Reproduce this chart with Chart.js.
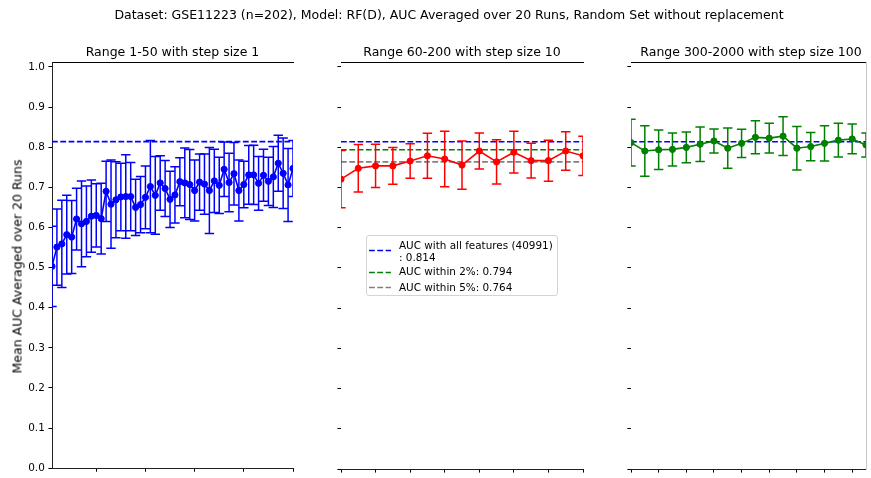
<!DOCTYPE html>
<html>
<head>
<meta charset="utf-8">
<script src="https://cdn.jsdelivr.net/npm/chart.js@4.4.1/dist/chart.umd.min.js"></script>
<style>
  body { margin: 0; background: #fff; }
  #fig { position: relative; width: 871px; height: 478px; overflow: hidden; font-family: "DejaVu Sans", sans-serif; color: #000; }
  #fig canvas { position: absolute; top: 0; }
  .t { position: absolute; white-space: nowrap; }
  .big { font-size: 12.5px; line-height: 15px; }
  .small { font-size: 10.42px; line-height: 12px; }
  .title { text-align: center; top: 44px; }
  #ylabel { left: -98px; top: 259px; width: 230px; text-align: center; transform: rotate(-90deg); }
  #legendBox { position: absolute; left: 366px; top: 235px; width: 190px; height: 59px; border: 1px solid #d4d4d4; border-radius: 3px; background: rgba(255,255,255,0.8); }
  .sample { position: absolute; left: 369px; }
</style>
</head>
<body>
<div id="fig">
  <canvas id="c1" width="300" height="478" style="left:0px"></canvas>
  <canvas id="c2" width="300" height="478" style="left:300px"></canvas>
  <canvas id="c3" width="281" height="478" style="left:590px"></canvas>

  <div class="t big" style="left:0;width:898px;text-align:center;top:7px">Dataset: GSE11223 (n=202), Model: RF(D), AUC Averaged over 20 Runs, Random Set without replacement</div>
  <div class="t big title" style="left:52px;width:241px">Range 1-50 with step size 1</div>
  <div class="t big title" style="left:341px;width:242px">Range 60-200 with step size 10</div>
  <div class="t big title" style="left:631px;width:240px">Range 300-2000 with step size 100</div>
  <div class="t big" id="ylabel">Mean AUC Averaged over 20 Runs</div>

  <div id="legendBox"></div>
  <svg class="sample" style="top:248px" width="22" height="5"><line x1="0" y1="2.5" x2="22" y2="2.5" stroke="#0000ff" stroke-width="1.6" stroke-dasharray="5.8 2.5"/></svg>
  <svg class="sample" style="top:269.5px" width="22" height="5"><line x1="0" y1="2.5" x2="22" y2="2.5" stroke="#008000" stroke-width="1.6" stroke-dasharray="5.8 2.5"/></svg>
  <svg class="sample" style="top:285px" width="22" height="5"><line x1="0" y1="2.5" x2="22" y2="2.5" stroke="#808080" stroke-width="1.6" stroke-dasharray="5.8 2.5"/></svg>
  <div class="t small" style="left:399px;top:238.7px">AUC with all features (40991)</div>
  <div class="t small" style="left:399px;top:250.7px">: 0.814</div>
  <div class="t small" style="left:399px;top:264.7px">AUC within 2%: 0.794</div>
  <div class="t small" style="left:399px;top:280.7px">AUC within 5%: 0.764</div>
</div>

<script>
// --- data ---
const sizes1 = [1,2,3,4,5,6,7,8,9,10,11,12,13,14,15,16,17,18,19,20,21,22,23,24,25,
                26,27,28,29,30,31,32,33,34,35,36,37,38,39,40,41,42,43,44,45,46,47,48,49,50];
const auc1 = [0.503,0.551,0.559,0.582,0.576,0.621,0.609,0.615,0.628,0.630,0.622,0.690,0.658,0.669,0.676,
              0.677,0.677,0.650,0.657,0.675,0.702,0.680,0.711,0.697,0.670,0.681,0.714,0.711,0.707,0.692,
              0.713,0.708,0.692,0.716,0.705,0.745,0.712,0.734,0.692,0.707,0.731,0.731,0.710,0.730,0.715,
              0.726,0.760,0.735,0.706,0.747];
const err1 = [0.100,0.095,0.109,0.098,0.091,0.077,0.107,0.088,0.090,0.079,0.088,0.075,0.110,0.095,0.084,
              0.104,0.085,0.070,0.070,0.078,0.115,0.097,0.068,0.070,0.070,0.070,0.060,0.087,0.087,0.076,
              0.070,0.075,0.107,0.079,0.070,0.068,0.073,0.078,0.076,0.058,0.073,0.074,0.067,0.065,0.060,
              0.076,0.070,0.088,0.091,0.070];

const sizes2 = [60,70,80,90,100,110,120,130,140,150,160,170,180,190,200];
const auc2 = [0.721,0.748,0.754,0.754,0.766,0.779,0.771,0.756,0.791,0.764,0.788,0.767,0.767,0.791,0.779];
const err2 = [0.071,0.059,0.054,0.046,0.043,0.056,0.069,0.060,0.045,0.055,0.052,0.043,0.051,0.048,0.049];

const sizes3 = [300,400,500,600,700,800,900,1000,1100,1200,1300,1400,1500,1600,1700,1800,1900,2000];
const auc3 = [0.812,0.791,0.794,0.795,0.800,0.808,0.816,0.798,0.810,0.825,0.823,0.828,0.798,0.802,0.810,0.818,0.821,0.806];
const err3 = [0.058,0.063,0.049,0.041,0.038,0.043,0.030,0.050,0.035,0.041,0.037,0.048,0.054,0.035,0.044,0.042,0.037,0.030];

const aucAll = 0.814;
const auc2pct = 0.794;
const auc5pct = 0.764;

const yTicks = [0.0,0.1,0.2,0.3,0.4,0.5,0.6,0.7,0.8,0.9,1.0];
const xTicks1 = [10,20,30,40,50];
const xTicks2 = [60,80,100,120,140,160,180,200];
const xTicks3 = [300,500,700,900,1100,1300,1500,1700,1900];

const FONT = '"DejaVu Sans", sans-serif';

// error bars drawn just under the series they belong to
const errorBars = {
  id: 'errorBars',
  beforeDatasetDraw(chart, args) {
    const ds = chart.data.datasets[args.index];
    if (!ds.errors) return;
    const { ctx, chartArea } = chart;
    const x = chart.scales.x, y = chart.scales.y;
    const cap = 4.7;
    ctx.save();
    ctx.beginPath();
    ctx.rect(chartArea.left, chartArea.top, chartArea.right - chartArea.left, chartArea.bottom - chartArea.top);
    ctx.clip();
    ctx.strokeStyle = ds.borderColor;
    ctx.lineWidth = 1.5;
    ds.data.forEach((p, i) => {
      const px = x.getPixelForValue(p.x);
      const top = y.getPixelForValue(p.y + ds.errors[i]);
      const bot = y.getPixelForValue(p.y - ds.errors[i]);
      ctx.beginPath();
      ctx.moveTo(px, top); ctx.lineTo(px, bot);
      ctx.moveTo(px - cap, top); ctx.lineTo(px + cap, top);
      ctx.moveTo(px - cap, bot); ctx.lineTo(px + cap, bot);
      ctx.stroke();
    });
    ctx.restore();
  }
};

function hline(value, color, xmin, xmax) {
  return {
    data: [{ x: xmin, y: value }, { x: xmax, y: value }],
    borderColor: color,
    borderWidth: 1.6,
    borderDash: [5.8, 2.5],
    pointRadius: 0,
    showLine: true
  };
}

function makePanel(id, cfg) {
  const series = {
    data: cfg.sizes.map((s, i) => ({ x: s, y: cfg.auc[i] })),
    errors: cfg.err,
    borderColor: cfg.color,
    backgroundColor: cfg.color,
    borderWidth: 1.6,
    pointRadius: 3.1,
    pointBorderWidth: 1,
    pointBackgroundColor: cfg.color,
    pointBorderColor: cfg.color,
    tension: 0,
    showLine: true
  };
  const datasets = [series].concat(cfg.lines.map(l => hline(l[0], l[1], cfg.min, cfg.max)));

  const scales = {
    x: {
      type: 'linear', position: 'bottom', min: cfg.min, max: cfg.max,
      afterBuildTicks: a => { a.ticks = cfg.xTicks.map(v => ({ value: v })); },
      afterFit: a => { a.height = 9; },
      ticks: { display: false, autoSkip: false },
      grid: { drawOnChartArea: false, color: '#000', tickLength: 3.6, tickWidth: 1 },
      border: { display: true, color: '#222', width: 1 }
    },
    xTop: {
      type: 'linear', position: 'top', min: cfg.min, max: cfg.max,
      afterFit: a => { a.height = 0; },
      ticks: { display: false },
      grid: { drawOnChartArea: false, drawTicks: false },
      border: { display: true, color: '#000', width: 1 }
    },
    y: {
      type: 'linear', position: 'left', min: 0, max: 1.0124,
      afterBuildTicks: a => { a.ticks = yTicks.map(v => ({ value: v })); },
      afterFit: a => { a.width = cfg.yWidth; },
      ticks: {
        display: cfg.yLabels, autoSkip: false, color: '#000', padding: 3.6,
        font: { family: FONT, size: 10.42 },
        callback: v => v.toFixed(1)
      },
      grid: { drawOnChartArea: false, color: '#000', tickLength: 3.6, tickWidth: 1 },
      border: { display: cfg.yLabels, color: '#222', width: 1 }
    }
  };
  if (cfg.rightSpine) {
    scales.yRight = {
      type: 'linear', position: 'right', min: 0, max: 1.0124,
      afterFit: a => { a.width = 0; },
      ticks: { display: false },
      grid: { drawOnChartArea: false, drawTicks: false },
      border: { display: true, color: '#c8c8c8', width: 1 }
    };
  }

  return new Chart(document.getElementById(id), {
    type: 'line',
    data: { datasets },
    options: {
      responsive: false,
      animation: false,
      layout: { padding: { top: 62, right: cfg.padRight, bottom: 0, left: 0 } },
      plugins: { legend: { display: false }, tooltip: { enabled: false }, title: { display: false } },
      scales
    },
    plugins: [errorBars]
  });
}

makePanel('c1', {
  sizes: sizes1, auc: auc1, err: err1, color: '#0000ff', min: 1, max: 50,
  xTicks: xTicks1, yWidth: 52, yLabels: true, padRight: 7,
  lines: [[aucAll, '#0000ff']]
});
makePanel('c2', {
  sizes: sizes2, auc: auc2, err: err2, color: '#ff0000', min: 60, max: 200,
  xTicks: xTicks2, yWidth: 41, yLabels: false, padRight: 17,
  lines: [[aucAll, '#0000ff'], [auc2pct, '#008000'], [auc5pct, '#808080']]
});
makePanel('c3', {
  sizes: sizes3, auc: auc3, err: err3, color: '#008000', min: 300, max: 2000,
  xTicks: xTicks3, yWidth: 41, yLabels: false, padRight: 1, rightSpine: true,
  lines: [[aucAll, '#0000ff']]
});
</script>
</body>
</html>
